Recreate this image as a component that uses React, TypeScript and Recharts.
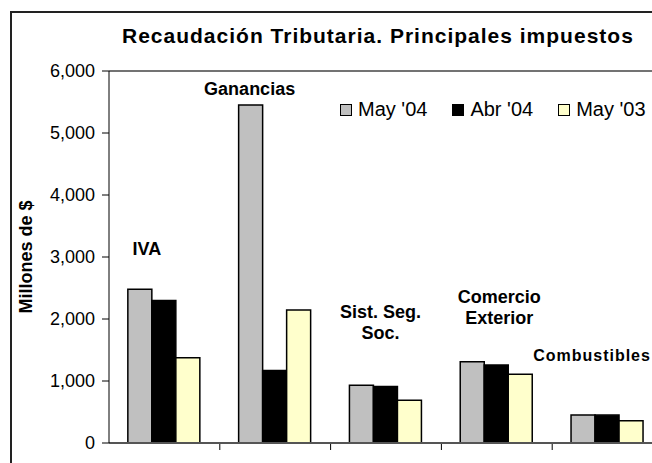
import React from "react";
import { BarChart, Bar, XAxis, YAxis, ReferenceLine, LabelList } from "recharts";

// Recaudación tributaria, millones de $
const categories = ["IVA", "Ganancias", "Sist. Seg. Soc.", "Comercio Exterior", "Combustibles"];
const categoryLines = [["IVA"], ["Ganancias"], ["Sist. Seg.", "Soc."], ["Comercio", "Exterior"], ["Combustibles"]];
const seriesNames = ["May '04", "Abr '04", "May '03"];
const may04 = [2480, 5450, 930, 1310, 450];
const abr04 = [2300, 1170, 910, 1260, 450];
const may03 = [1375, 2145, 690, 1110, 360];
const yTicks = [0, 1000, 2000, 3000, 4000, 5000, 6000];

const data = categories.map((name, i) => ({
  name,
  may04: may04[i],
  abr04: abr04[i],
  may03: may03[i],
}));

const FONT = '"Liberation Sans", Arial, sans-serif';
const COLORS = ["#C0C0C0", "#000000", "#FFFFCC"];
const CHART_W = 700;
const PLOT_LEFT = 109;
const MARGIN_RIGHT = 37;
const BAND = (CHART_W - PLOT_LEFT - MARGIN_RIGHT) / categories.length;

// where each category caption sits (value on the axis, horizontal nudge)
const labelPlace = [
  { at: 3130, dx: -17, spacing: 0 },
  { at: 5710, dx: -25, spacing: 0 },
  { at: 1950, dx: -5, spacing: 0 },
  { at: 2180, dx: 3, spacing: 0 },
  { at: 1420, dx: -15, spacing: 1 },
];

const CategoryLabel = (props: any) => {
  const vb = props.viewBox || props;
  const { x, y, width, height } = vb;
  let index = props.index;
  if (index === undefined) index = may04.indexOf(props.value);
  const place = labelPlace[index];
  const value = may04[index];
  const base = y + height;
  const cy = base - (place.at / value) * height;
  const cx = x + width * 1.5 + place.dx;
  const lines = categoryLines[index];
  const lh = 21;
  return (
    <text
      x={cx}
      y={cy - ((lines.length - 1) * lh) / 2}
      textAnchor="middle"
      dominantBaseline="central"
      fontFamily={FONT}
      fontSize={index === 4 ? 16 : 18}
      fontWeight="bold"
      letterSpacing={place.spacing}
      fill="#000"
    >
      {lines.map((l, k) => (
        <tspan key={k} x={cx} dy={k === 0 ? 0 : lh}>
          {l}
        </tspan>
      ))}
    </text>
  );
};

const BoundaryTick = (props: any) => {
  const { x, y } = props;
  const bx = x + BAND / 2;
  return <line x1={bx} x2={bx} y1={y - 1} y2={y - 7} stroke="#000" strokeWidth={1} />;
};

const App: React.FC = () => {
  return (
    <div
      style={{
        position: "absolute",
        left: 0,
        top: 0,
        width: 652,
        height: 463,
        overflow: "hidden",
        background: "#fff",
        fontFamily: FONT,
      }}
    >
      <div
        style={{
          position: "absolute",
          left: 10,
          top: 11,
          width: 700,
          height: 500,
          borderLeft: "2px solid #222",
          borderTop: "2px solid #222",
        }}
      />
      <div
        style={{
          position: "absolute",
          left: 122,
          top: 24,
          fontSize: 21,
          fontWeight: "bold",
          letterSpacing: 1,
          whiteSpace: "nowrap",
          color: "#000",
        }}
      >
        Recaudación Tributaria. Principales impuestos
      </div>
      <div style={{ position: "absolute", left: 0, top: 0 }}>
        <BarChart
          width={CHART_W}
          height={463}
          data={data}
          margin={{ top: 71, right: MARGIN_RIGHT, bottom: 19, left: 0 }}
          barCategoryGap="17%"
          barGap={0}
        >
          <XAxis
            dataKey="name"
            axisLine={{ stroke: "#555", strokeWidth: 2 }}
            tickLine={false}
            tick={<BoundaryTick />}
            height={1}
          />
          <YAxis
            width={PLOT_LEFT}
            domain={[0, 6000]}
            ticks={yTicks}
            interval={0}
            tickSize={7}
            tickMargin={7}
            axisLine={{ stroke: "#000" }}
            tickLine={{ stroke: "#000" }}
            tick={{ fill: "#000", fontSize: 18, fontFamily: FONT }}
            tickFormatter={(v: number) => v.toLocaleString("en-US")}
            label={{
              content: () => (
                <text
                  x={26}
                  y={257}
                  transform="rotate(-90 26 257)"
                  textAnchor="middle"
                  dominantBaseline="central"
                  fontFamily={FONT}
                  fontSize={18}
                  fontWeight="bold"
                  fill="#000"
                >
                  Millones de $
                </text>
              ),
            }}
          />
          <ReferenceLine y={6000} stroke="#444" strokeWidth={1.5} />
          <Bar dataKey="may04" name={seriesNames[0]} fill={COLORS[0]} stroke="#000" strokeWidth={1.5} isAnimationActive={false}>
            <LabelList dataKey="may04" content={<CategoryLabel />} />
          </Bar>
          <Bar dataKey="abr04" name={seriesNames[1]} fill={COLORS[1]} stroke="#000" strokeWidth={1.5} isAnimationActive={false} />
          <Bar dataKey="may03" name={seriesNames[2]} fill={COLORS[2]} stroke="#000" strokeWidth={1.5} isAnimationActive={false} />
        </BarChart>
      </div>
      <div
        style={{
          position: "absolute",
          left: 340,
          top: 98,
          display: "flex",
          alignItems: "center",
          fontSize: 20,
          color: "#000",
          whiteSpace: "nowrap",
        }}
      >
        {seriesNames.map((n, i) => (
          <div key={n} style={{ display: "flex", alignItems: "center", marginRight: i < 2 ? 25 : 0 }}>
            <span
              style={{
                display: "inline-block",
                width: 10,
                height: 10,
                background: COLORS[i],
                border: "1px solid #000",
                marginRight: 6,
              }}
            />
            <span>{n}</span>
          </div>
        ))}
      </div>
    </div>
  );
};

export default App;
